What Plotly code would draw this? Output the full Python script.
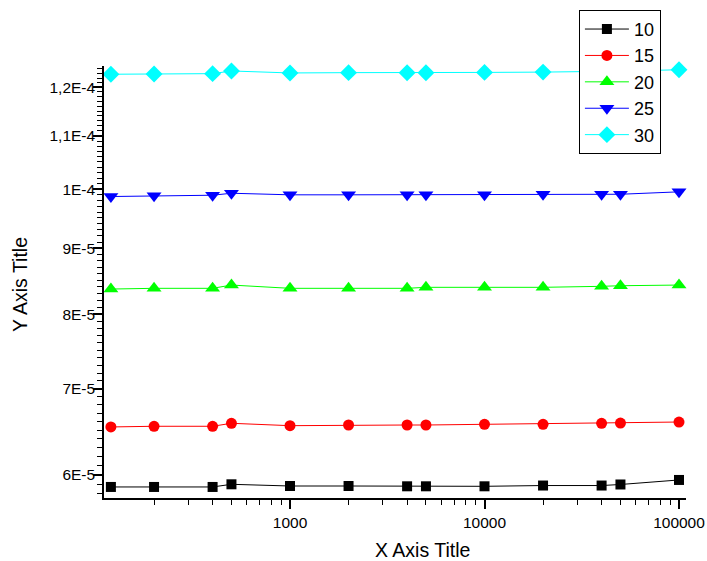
import plotly.graph_objects as go

x_vals = [120, 200, 400, 500, 1000, 2000, 4000, 5000, 10000, 20000, 40000, 50000, 100000]

s10 = [5.873e-5, 5.873e-5, 5.873e-5, 5.901e-5, 5.883e-5, 5.883e-5, 5.880e-5, 5.880e-5,
       5.880e-5, 5.888e-5, 5.888e-5, 5.899e-5, 5.947e-5]
s15 = [6.538e-5, 6.546e-5, 6.546e-5, 6.581e-5, 6.553e-5, 6.561e-5, 6.561e-5, 6.561e-5,
       6.569e-5, 6.569e-5, 6.581e-5, 6.584e-5, 6.596e-5]
s20 = [8.366e-5, 8.377e-5, 8.377e-5, 8.426e-5, 8.377e-5, 8.377e-5, 8.377e-5, 8.392e-5,
       8.392e-5, 8.392e-5, 8.407e-5, 8.416e-5, 8.426e-5]
s25 = [9.871e-5, 9.883e-5, 9.894e-5, 9.929e-5, 9.901e-5, 9.901e-5, 9.901e-5, 9.901e-5,
       9.901e-5, 9.911e-5, 9.911e-5, 9.911e-5, 9.954e-5]
s30 = [1.2283e-4, 1.2289e-4, 1.2296e-4, 1.2355e-4, 1.2311e-4, 1.2318e-4, 1.2316e-4, 1.2316e-4,
       1.2323e-4, 1.2330e-4, 1.2344e-4, 1.2351e-4, 1.2382e-4]

series_names = ["10", "15", "20", "25", "30"]
series_values = [s10, s15, s20, s25, s30]
colors = ["#000000", "#FF0000", "#00FF00", "#0000FF", "#00FFFF"]
symbols = ["square", "circle", "triangle-up", "triangle-down", "diamond"]
msizes = [10, 11, 13, 13, 13]

x_tickvals = [1000, 10000, 100000]
x_ticktext = ["1000", "10000", "100000"]
y_tickvals = [6e-5, 7e-5, 8e-5, 9e-5, 1e-4, 1.1e-4, 1.2e-4]
y_ticktext = ["6E-5", "7E-5", "8E-5", "9E-5", "1E-4", "1,1E-4", "1,2E-4"]

x_minor = [m * d for d in (100, 1000, 10000) for m in range(2, 10)]
y_minor = [k * 1e-6 for k in range(58, 125) if k % 10 != 0]

fig = go.Figure()
for name, vals, c, sym, ms in zip(series_names, series_values, colors, symbols, msizes):
    fig.add_trace(go.Scatter(
        x=x_vals, y=vals, name=name, mode="lines+markers",
        line=dict(color=c, width=1),
        marker=dict(color=c, symbol=sym, size=ms, line=dict(width=0)),
        cliponaxis=False,
    ))

font_family = "Liberation Sans, Arial, sans-serif"
fig.update_layout(
    width=707, height=561,
    margin=dict(l=104, r=21, t=66, b=63, autoexpand=False),
    paper_bgcolor="white", plot_bgcolor="white",
    font=dict(family=font_family, color="black", size=15),
    showlegend=True,
    legend=dict(
        x=0.816, y=1.13, xanchor="left", yanchor="top",
        bordercolor="black", borderwidth=1, bgcolor="white",
        font=dict(size=18, family=font_family),
        tracegroupgap=0, itemwidth=44,
    ),
    xaxis=dict(
        type="log", range=[2.0437, 5.036], automargin=False,
        showline=True, linecolor="black", linewidth=1.5, mirror=False,
        showgrid=False, zeroline=False,
        ticks="outside", ticklen=9, tickwidth=1.5, tickcolor="black",
        tickmode="array", tickvals=x_tickvals, ticktext=x_ticktext,
        tickfont=dict(size=15.5), ticklabelstandoff=1,
        minor=dict(tickmode="array", tickvals=x_minor, ticks="outside",
                   ticklen=5, tickwidth=1.2, tickcolor="black", showgrid=False),
    ),
    yaxis=dict(
        type="log", range=[-4.23971, -3.9043], automargin=False,
        showline=True, linecolor="black", linewidth=1.5, mirror=False,
        showgrid=False, zeroline=False,
        ticks="outside", ticklen=9, tickwidth=1.5, tickcolor="black",
        tickmode="array", tickvals=y_tickvals, ticktext=y_ticktext,
        tickfont=dict(size=15.5), ticklabelstandoff=-5,
        minor=dict(tickmode="array", tickvals=y_minor, ticks="outside",
                   ticklen=5, tickwidth=1.2, tickcolor="black", showgrid=False),
    ),
    annotations=[
        dict(text="X Axis Title", xref="paper", yref="paper", x=0.5464, y=-0.1204,
             xanchor="center", yanchor="middle", showarrow=False,
             font=dict(size=19.5, family=font_family, color="black")),
        dict(text="Y Axis Title", xref="paper", yref="paper", x=-0.1443, y=0.4931,
             xanchor="center", yanchor="middle", showarrow=False, textangle=-90,
             font=dict(size=19.5, family=font_family, color="black")),
    ],
)

fig.write_html("out.html", config={"displayModeBar": False},
               post_script="document.body.style.margin='0';")
